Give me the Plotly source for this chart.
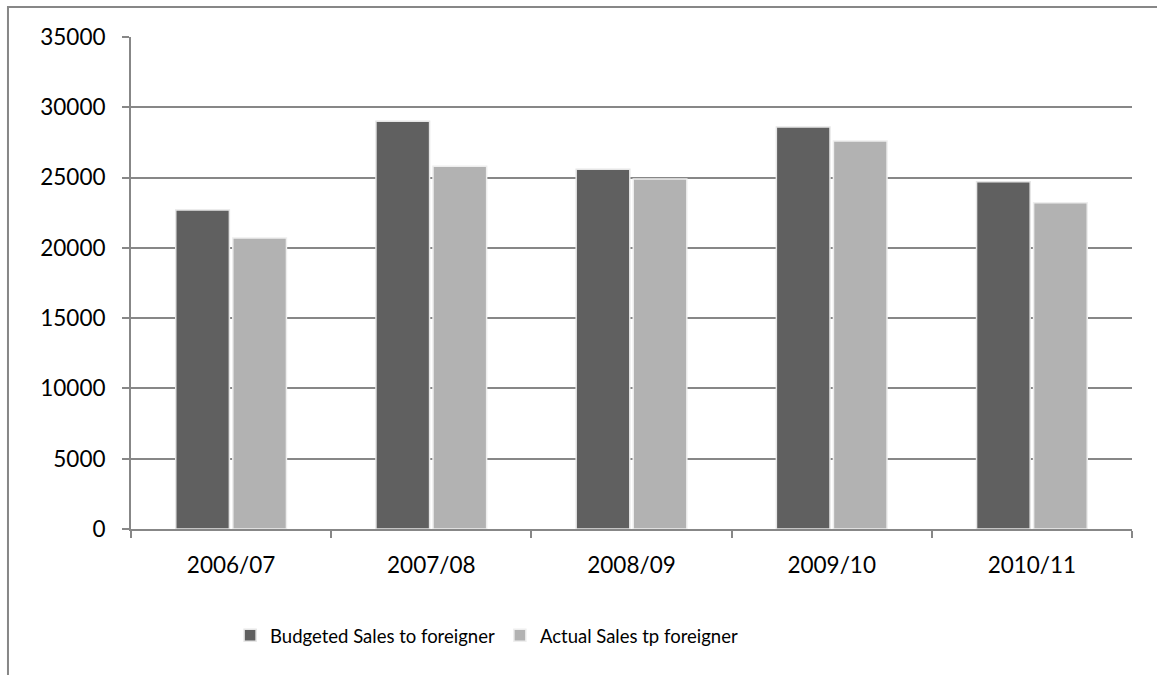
import plotly.graph_objects as go

categories = ["2006/07", "2007/08", "2008/09", "2009/10", "2010/11"]
budgeted = [22700, 29000, 25600, 28600, 24700]
actual = [20700, 25800, 24900, 27600, 23200]
series_names = ["Budgeted Sales to foreigner", "Actual Sales tp foreigner"]
y_ticks = [0, 5000, 10000, 15000, 20000, 25000, 30000, 35000]

FONT = "Lato"
GRID = "#878787"

fig = go.Figure()
fig.add_trace(go.Bar(x=categories, y=budgeted, name=series_names[0],
                     marker=dict(color="#606060", line=dict(color="#e6e6e6", width=1.5))))
fig.add_trace(go.Bar(x=categories, y=actual, name=series_names[1],
                     marker=dict(color="#b2b2b2", line=dict(color="#eeeeee", width=1.5))))

fig.update_layout(
    width=1157, height=675,
    margin=dict(l=131, r=25, t=37, b=146),
    paper_bgcolor="white", plot_bgcolor="white",
    barmode="group", bargap=0.43, bargroupgap=0.06,
    font=dict(family=FONT, size=18, color="black"),
    showlegend=True,
    legend=dict(orientation="h", x=0.099, xanchor="left", y=-0.217, yanchor="middle",
                font=dict(family=FONT, size=18.5), itemwidth=30, bgcolor="rgba(0,0,0,0)"),
    shapes=[dict(type="rect", xref="paper", yref="paper",
                 x0=-0.1229, x1=1.5, y0=-1.0, y1=1.061,
                 line=dict(color=GRID, width=2), fillcolor="rgba(0,0,0,0)", layer="below")],
)
fig.update_yaxes(range=[0, 35000], tickvals=y_ticks, tickformat="d", showgrid=True,
                 gridcolor=GRID, gridwidth=2,
                 showline=True, linecolor=GRID, linewidth=2, ticks="outside", ticklen=7,
                 tickcolor=GRID, tickwidth=2, ticklabelstandoff=12, zeroline=False,
                 tickfont=dict(family=FONT, size=22.5))
fig.update_xaxes(showline=True, linecolor=GRID, linewidth=2, ticks="outside", ticklen=7,
                 tickcolor=GRID, tickwidth=2, tickson="boundaries", ticklabelstandoff=15,
                 tickfont=dict(family=FONT, size=22.5))

fig.write_html("out.html", config={"displayModeBar": False},
               post_script="document.body.style.margin='0';")
